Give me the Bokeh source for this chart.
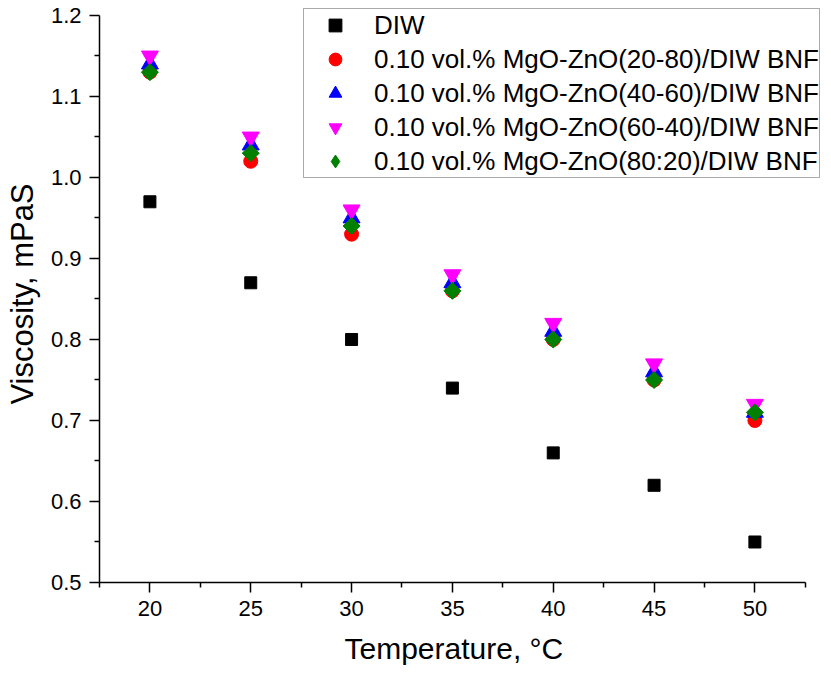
import numpy as np
from bokeh.plotting import figure
from bokeh.models import Legend, LegendItem, FixedTicker, NumeralTickFormatter, Title
from bokeh.embed import file_html
from bokeh.resources import INLINE

temperature = [20, 25, 30, 35, 40, 45, 50]
diw = [0.97, 0.87, 0.80, 0.74, 0.66, 0.62, 0.55]
mgo_20_80 = [1.13, 1.02, 0.93, 0.86, 0.80, 0.75, 0.70]
mgo_40_60 = [1.14, 1.04, 0.95, 0.87, 0.81, 0.76, 0.71]
mgo_60_40 = [1.15, 1.05, 0.96, 0.88, 0.82, 0.77, 0.72]
mgo_80_20 = [1.13, 1.03, 0.94, 0.86, 0.80, 0.75, 0.71]

labels = ["DIW",
          "0.10 vol.% MgO-ZnO(20-80)/DIW BNF",
          "0.10 vol.% MgO-ZnO(40-60)/DIW BNF",
          "0.10 vol.% MgO-ZnO(60-40)/DIW BNF",
          "0.10 vol.% MgO-ZnO(80:20)/DIW BNF"]
x_ticks = [20, 25, 30, 35, 40, 45, 50]
x_minor = [17.5, 22.5, 27.5, 32.5, 37.5, 42.5, 47.5, 52.5]
y_ticks = [0.5, 0.6, 0.7, 0.8, 0.9, 1.0, 1.1, 1.2]
y_minor = [0.55, 0.65, 0.75, 0.85, 0.95, 1.05, 1.15]
x_axis_span = (17.5, 52.5)
y_axis_span = (0.5, 1.2)
x_title = "Temperature, °C"
y_title = "Viscosity, mPaS"

FONT = "Liberation Sans"

# frame is a bit larger than the drawn axes so the legend (which overhangs
# the axes' extent) is not clipped
p = figure(width=828, height=675, output_backend="svg", toolbar_location=None,
           x_range=(17.5, 53.65), y_range=(0.5, 1.2123),
           min_border_left=99, min_border_right=0, min_border_top=5, min_border_bottom=93)
p.outline_line_color = None
p.xgrid.visible = False
p.ygrid.visible = False

r0 = p.scatter(temperature, diw, marker="square", size=12, color="black")
r1 = p.scatter(temperature, mgo_20_80, marker="circle", size=14, color="red")
r2 = p.scatter(temperature, mgo_40_60, marker="triangle", size=17, color="blue")
r3 = p.scatter(temperature, mgo_60_40, marker="inverted_triangle", size=17, color="magenta")
r4 = p.scatter(temperature, mgo_80_20, marker="square", angle=np.pi / 4, size=12, color="green")
# legend key for the diamond series (legend glyphs are never rotated)
r4_key = p.scatter(temperature, mgo_80_20, marker="diamond", size=16, color="green", visible=False)

for ax in (p.xaxis[0], p.yaxis[0]):
    ax.axis_line_width = 1.5
    ax.major_tick_line_width = 1.5
    ax.minor_tick_line_width = 1.5
    ax.major_tick_in = 0
    ax.major_tick_out = 10
    ax.minor_tick_in = 0
    ax.minor_tick_out = 5
    ax.major_label_text_font = FONT
    ax.major_label_text_font_size = "22px"
    ax.major_label_text_color = "black"
    ax.axis_label_text_font = FONT
    ax.axis_label_text_font_style = "normal"
    ax.axis_label_text_color = "black"

p.xaxis.bounds = x_axis_span
p.yaxis.bounds = y_axis_span
p.xaxis.ticker = FixedTicker(ticks=x_ticks, minor_ticks=x_minor)
p.yaxis.ticker = FixedTicker(ticks=y_ticks, minor_ticks=y_minor)
p.yaxis.formatter = NumeralTickFormatter(format="0.0")
p.yaxis.axis_label = y_title
p.yaxis.axis_label_text_font_size = "31px"
p.xaxis.major_label_standoff = 8
p.yaxis.major_label_standoff = 8
p.yaxis.axis_label_standoff = 8

# x-axis title, centred under the drawn axis (not under the wider frame)
xt = Title(text=x_title, align="left", offset=245, standoff=22,
           text_font=FONT, text_font_size="30px", text_font_style="normal",
           text_color="black")
p.add_layout(xt, "below")

legend = Legend(items=[LegendItem(label=l, renderers=[r])
                       for l, r in zip(labels, [r0, r1, r2, r3, r4_key])],
                location=(204, 404))
legend.label_text_font = FONT
legend.label_text_font_size = "26px"
legend.label_text_color = "black"
legend.glyph_width = 62
legend.glyph_height = 32
legend.label_height = 32
legend.spacing = 2
legend.padding = 0
legend.margin = 0
legend.label_standoff = 8
legend.border_line_color = "#555555"
legend.border_line_width = 1.5
legend.background_fill_alpha = 1.0
p.add_layout(legend)

open("out.html", "w").write(file_html(p, INLINE))
